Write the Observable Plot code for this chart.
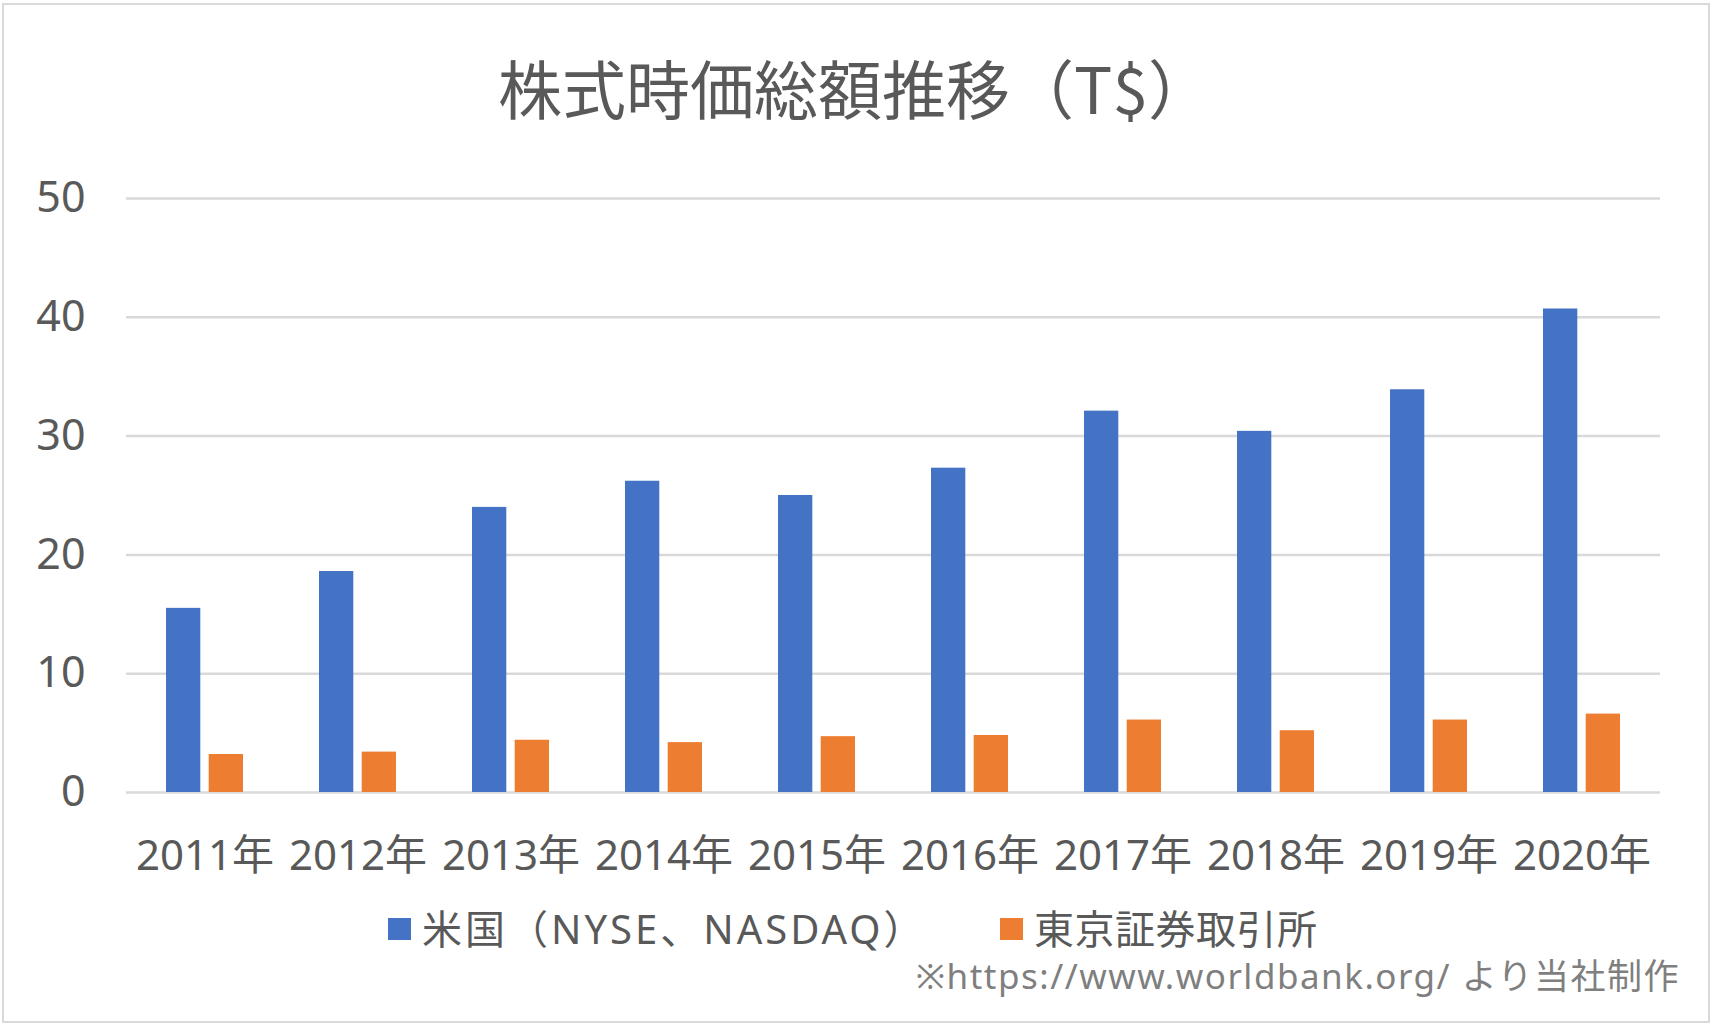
<!DOCTYPE html>
<html>
<head>
<meta charset="utf-8">
<script src="https://cdn.jsdelivr.net/npm/d3@7"></script>
<script src="https://cdn.jsdelivr.net/npm/@observablehq/plot@0.6"></script>
<style>
  body { margin: 0; background: #fff; }
  #frame { position: relative; width: 1718px; height: 1031px; background: #fff; overflow: hidden;
           font-family: "Noto Sans", "Noto Sans CJK JP", sans-serif; color: #595959; }
  #border { position: absolute; left: 2px; top: 3px; width: 1708px; height: 1020px; box-sizing: border-box;
            border: 2px solid #D9D9D9; }
  #title { position: absolute; left: -4px; top: 54px; width: 1718px; text-align: center; font-size: 64px; line-height: 1;
           font-family: "Noto Sans CJK JP", sans-serif; }
  #chart { position: absolute; left: 0; top: 140px; }
  .legend-item { position: absolute; top: 907px; display: flex; align-items: center; font-size: 40px; line-height: 1.1; }
  .legend-item:first-child span { letter-spacing: 3px; }
  .legend-item:nth-child(2) span { letter-spacing: 0.5px; }
  .swatch { width: 23px; height: 22px; margin-right: 11px; }
  #caption { position: absolute; right: 38px; top: 957px; font-size: 35px; line-height: 1.1; color: #7F7F7F; white-space: nowrap; letter-spacing: 1.5px; }
</style>
</head>
<body>
<div id="frame">
  <div id="border"></div>
  <div id="title"></div>
  <div id="chart"></div>
  <div id="legend"></div>
  <div id="caption"></div>
</div>
<script>
const titleText = "株式時価総額推移（T$）";
const captionText = "※https://www.worldbank.org/ より当社制作";
const years = ["2011年","2012年","2013年","2014年","2015年","2016年","2017年","2018年","2019年","2020年"];
const seriesNames = ["米国（NYSE、NASDAQ）", "東京証券取引所"];
const seriesColors = ["#4472C4", "#ED7D31"];
const usValues  = [15.5, 18.6, 24.0, 26.2, 25.0, 27.3, 32.1, 30.4, 33.9, 40.7];
const tseValues = [3.2, 3.4, 4.4, 4.2, 4.7, 4.8, 6.1, 5.2, 6.1, 6.6];
const yTicks = [0, 10, 20, 30, 40, 50];

document.getElementById("title").textContent = titleText;
document.getElementById("caption").textContent = captionText;

const usData = years.map((y, i) => ({year: y, series: seriesNames[0], value: usValues[i]}));
const tseData = years.map((y, i) => ({year: y, series: seriesNames[1], value: tseValues[i]}));

const width = 1718, marginLeft = 126, marginRight = 58;
const paddingInner = 0.5, paddingOuter = 0.25;
const step = (width - marginLeft - marginRight) / (years.length - paddingInner + 2 * paddingOuter);
const bandwidth = step * (1 - paddingInner);
const barWidth = 34;
const inset = bandwidth - barWidth;

const chart = Plot.plot({
  width,
  height: 762,
  marginTop: 58,
  marginBottom: 110,
  marginLeft,
  marginRight,
  style: {fontFamily: '"Noto Sans", "Noto Sans CJK JP", sans-serif', color: "#595959", background: "transparent", overflow: "visible"},
  x: {domain: years, paddingInner, paddingOuter, label: null},
  y: {domain: [0, 50], label: null},
  marks: [
    Plot.ruleY(yTicks, {stroke: "#D9D9D9", strokeWidth: 2.5}),
    Plot.barY(usData, {x: "year", y: "value", fill: seriesColors[0], insetRight: inset}),
    Plot.barY(tseData, {x: "year", y: "value", fill: seriesColors[1], insetLeft: inset}),
    Plot.axisY({ticks: yTicks, tickSize: 0, tickPadding: 41, fontSize: 43, fill: "#595959", label: null}),
    Plot.axisX({tickSize: 0, tickPadding: 48, fontSize: 42, fill: "#595959", label: null})
  ]
});
document.getElementById("chart").appendChild(chart);

const legend = document.getElementById("legend");
const legendLefts = [388, 1000];
seriesNames.forEach((name, i) => {
  const item = document.createElement("div");
  item.className = "legend-item";
  item.style.left = legendLefts[i] + "px";
  const sw = document.createElement("div");
  sw.className = "swatch";
  sw.style.background = seriesColors[i];
  const label = document.createElement("span");
  label.textContent = name;
  item.appendChild(sw);
  item.appendChild(label);
  legend.appendChild(item);
});
</script>
</body>
</html>
